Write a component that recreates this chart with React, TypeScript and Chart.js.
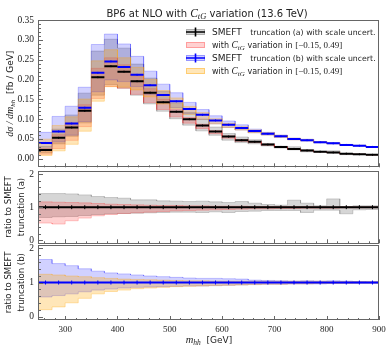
import React, { useEffect, useRef } from "react";
import { Chart, registerables } from "chart.js";
Chart.register(...registerables);

// ---------------- data ----------------
const BIN_EDGES = [250, 275, 300, 325, 350, 375, 400, 425, 450, 475, 500, 525, 550, 575, 600, 625, 650, 675, 700, 725, 750, 775, 800, 825, 850, 875, 900];

// central values dsigma/dm_hh [fb/GeV]
const XSEC_A = [0.022, 0.053, 0.079, 0.121, 0.206, 0.234, 0.220, 0.196, 0.167, 0.143, 0.119, 0.100, 0.084, 0.069, 0.056, 0.047, 0.043, 0.036, 0.030, 0.025, 0.021, 0.018, 0.016, 0.013, 0.0115, 0.010];
const XSEC_B = [0.040, 0.069, 0.089, 0.129, 0.217, 0.246, 0.232, 0.212, 0.186, 0.161, 0.145, 0.126, 0.111, 0.097, 0.086, 0.078, 0.070, 0.063, 0.057, 0.050, 0.047, 0.042, 0.039, 0.035, 0.033, 0.030];

// ratio bands relative to the central values
const SCALE_A_HI = [1.41, 1.41, 1.40, 1.37, 1.32, 1.29, 1.27, 1.22, 1.22, 1.19, 1.18, 1.17, 1.18, 1.16, 1.14, 1.17, 1.12, 1.08, 1.06, 1.21, 1.12, 1.04, 1.25, 1.02, 1.04, 1.04];
const SCALE_A_LO = [0.69, 0.71, 0.72, 0.75, 0.78, 0.80, 0.81, 0.82, 0.83, 0.84, 0.85, 0.85, 0.84, 0.86, 0.84, 0.87, 0.88, 0.90, 0.90, 0.90, 0.84, 0.91, 0.91, 0.80, 0.92, 0.93];
const CTG_A_HI = [1.16, 1.15, 1.14, 1.13, 1.11, 1.09, 1.08, 1.07, 1.06, 1.05, 1.05, 1.04, 1.04, 1.03, 1.03, 1.03, 1.02, 1.02, 1.02, 1.02, 1.02, 1.01, 1.01, 1.01, 1.01, 1.01];
const CTG_A_LO = [0.52, 0.49, 0.59, 0.67, 0.74, 0.78, 0.81, 0.83, 0.85, 0.87, 0.89, 0.90, 0.91, 0.92, 0.93, 0.94, 0.95, 0.95, 0.96, 0.96, 0.97, 0.97, 0.97, 0.98, 0.98, 0.98];
const SCALE_B_HI = [1.67, 1.55, 1.49, 1.40, 1.33, 1.28, 1.25, 1.22, 1.19, 1.17, 1.15, 1.13, 1.12, 1.12, 1.11, 1.10, 1.07, 1.06, 1.05, 1.04, 1.05, 1.04, 1.05, 1.04, 1.03, 1.02];
const SCALE_B_LO = [0.58, 0.62, 0.67, 0.73, 0.78, 0.81, 0.84, 0.86, 0.87, 0.88, 0.89, 0.90, 0.90, 0.91, 0.92, 0.93, 0.94, 0.95, 0.95, 0.96, 0.96, 0.96, 0.97, 0.97, 0.97, 0.97];
const CTG_B_HI = [1.24, 1.22, 1.19, 1.17, 1.14, 1.12, 1.10, 1.09, 1.08, 1.07, 1.06, 1.05, 1.05, 1.04, 1.04, 1.04, 1.04, 1.04, 1.04, 1.04, 1.04, 1.04, 1.03, 1.03, 1.03, 1.03];
const CTG_B_LO = [0.21, 0.29, 0.41, 0.54, 0.67, 0.74, 0.78, 0.82, 0.84, 0.86, 0.88, 0.89, 0.90, 0.91, 0.92, 0.93, 0.94, 0.95, 0.95, 0.96, 0.96, 0.97, 0.97, 0.97, 0.98, 0.98];

const X_TICKS = [300, 400, 500, 600, 700, 800, 900];
const Y_TICKS_MAIN = [0, 0.05, 0.1, 0.15, 0.2, 0.25, 0.3, 0.35];
const Y_TICKS_RATIO = [0, 1, 2];

const LEGEND_LABELS = [
  { head: "SMEFT", tail: "truncation (a) with scale uncert." },
  { head: "with", tail: "variation in" },
  { head: "SMEFT", tail: "truncation (b) with scale uncert." },
  { head: "with", tail: "variation in" },
];

// ---------------- styles ----------------
const SANS = "'DejaVu Sans', sans-serif";
const SERIF = "'Liberation Serif', serif";
const FRAME = "#666";
const TXT = "#222";
const GRAY_FILL = "rgba(128,128,128,0.32)";
const GRAY_EDGE = "rgba(128,128,128,0.45)";
const RED_FILL = "rgba(255,0,0,0.18)";
const RED_EDGE = "rgba(255,0,0,0.25)";
const BLUE_FILL = "rgba(0,0,255,0.18)";
const BLUE_EDGE = "rgba(0,0,255,0.28)";
const ORANGE_FILL = "rgba(255,165,0,0.28)";
const ORANGE_EDGE = "rgba(255,165,0,0.38)";

const CENTERS = BIN_EDGES.slice(0, -1).map((e, i) => (e + BIN_EDGES[i + 1]) / 2);

const stepPts = (vals: number[]) =>
  vals.flatMap((v, i) => [{ x: BIN_EDGES[i], y: v }, { x: BIN_EDGES[i + 1], y: v }]);
const scaled = (r: number[], base: number[]) => r.map((v, i) => v * base[i]);
const segs = (vals: number[]) => {
  const pts: any[] = [];
  vals.forEach((v, i) => {
    pts.push({ x: BIN_EDGES[i], y: v }, { x: BIN_EDGES[i + 1], y: v }, { x: BIN_EDGES[i + 1], y: null });
  });
  return pts;
};
const marks = (vals: number[]) => CENTERS.map((x, i) => ({ x, y: vals[i] }));

const bandDs = (lo: number[], hi: number[], base: number[], fill: string, edge: string, order: number) => [
  {
    type: "line",
    data: stepPts(scaled(hi, base)),
    borderColor: edge,
    borderWidth: 0.8,
    backgroundColor: fill,
    fill: "+1",
    pointRadius: 0,
    tension: 0,
    order,
  },
  {
    type: "line",
    data: stepPts(scaled(lo, base)),
    borderColor: edge,
    borderWidth: 0.8,
    backgroundColor: fill,
    fill: false,
    pointRadius: 0,
    tension: 0,
    order,
  },
];
const lineDs = (data: any[], color: string) => ({
  type: "line",
  data,
  borderColor: color,
  borderWidth: 2,
  pointRadius: 0,
  spanGaps: false,
  tension: 0,
  fill: false,
  order: 0,
});
const markDs = (data: any[], color: string, r: number) => ({
  type: "line",
  data,
  showLine: false,
  fill: false,
  pointStyle: "line",
  pointRotation: 90,
  pointRadius: r,
  pointBorderWidth: 1,
  pointBorderColor: color,
  pointBackgroundColor: color,
  order: 0,
});

type Seg = { t: string; f: string; dy?: number };
const sans = (s: number) => `${s}px ${SANS}`;
const it = (s: number) => `italic ${s}px ${SERIF}`;
const rm = (s: number) => `${s}px ${SERIF}`;

function drawRich(ctx: CanvasRenderingContext2D, parts: Seg[], x: number, y: number, align: "left" | "center") {
  let w = 0;
  parts.forEach((s) => {
    ctx.font = s.f;
    w += ctx.measureText(s.t).width;
  });
  let cx = align === "center" ? x - w / 2 : x;
  ctx.textAlign = "left";
  ctx.textBaseline = "alphabetic";
  parts.forEach((s) => {
    ctx.font = s.f;
    ctx.fillText(s.t, cx, y + (s.dy || 0));
    cx += ctx.measureText(s.t).width;
  });
  return cx;
}

const ctgSegs = (head: string, tail: string): Seg[] => [
  { t: head + " ", f: sans(8) },
  { t: "C", f: it(9.5) },
  { t: "tG", f: it(7), dy: 1.6 },
  { t: " " + tail + " ", f: sans(8) },
  { t: "[\u22120.15, 0.49]", f: rm(9) },
];

function decor(panel: "main" | "a" | "b") {
  return {
    id: "decor_" + panel,
    afterDraw(chart: any) {
      const ctx: CanvasRenderingContext2D = chart.ctx;
      const a = chart.chartArea;
      const xs = chart.scales.x;
      const ys = chart.scales.y;
      ctx.save();
      ctx.strokeStyle = FRAME;
      ctx.lineWidth = 1;
      ctx.beginPath();
      for (let v = 260; v <= 900; v += 20) {
        const px = Math.round(xs.getPixelForValue(v)) + 0.5;
        const len = v % 100 === 0 ? 4 : 2;
        ctx.moveTo(px, a.bottom);
        ctx.lineTo(px, a.bottom - len);
      }
      if (panel === "main") {
        for (let i = 0; i <= 35; i++) {
          const py = Math.round(ys.getPixelForValue(i / 100)) + 0.5;
          const len = i % 5 === 0 ? 4 : 2;
          ctx.moveTo(a.left, py);
          ctx.lineTo(a.left + len, py);
        }
      } else {
        for (let i = 0; i <= 10; i++) {
          const py = Math.round(ys.getPixelForValue(i / 5)) + 0.5;
          const len = i % 5 === 0 ? 4 : 2;
          ctx.moveTo(a.left, py);
          ctx.lineTo(a.left + len, py);
        }
      }
      ctx.stroke();
      ctx.strokeRect(Math.round(a.left) - 0.5, Math.round(a.top) + 0.5, Math.round(a.right - a.left), Math.round(a.bottom - a.top) - 1);

      ctx.fillStyle = TXT;
      if (panel === "main") {
        const mid = (a.left + a.right) / 2 - 2;
        drawRich(ctx, [
          { t: "BP6 at NLO with ", f: sans(10) },
          { t: "C", f: it(11.5) },
          { t: "tG", f: it(8.5), dy: 2 },
          { t: " variation (13.6 TeV)", f: sans(10) },
        ], mid, 16.5, "center");

        ctx.save();
        ctx.translate(13, (a.top + a.bottom) / 2);
        ctx.rotate(-Math.PI / 2);
        drawRich(ctx, [
          { t: "d\u03c3 / d", f: it(10) },
          { t: "m", f: it(10) },
          { t: "hh", f: it(7), dy: 1.8 },
          { t: "  [fb / GeV]", f: sans(9) },
        ], 0, 0, "center");
        ctx.restore();

        const fills = [GRAY_FILL, RED_FILL, BLUE_FILL, ORANGE_FILL];
        const edges = [GRAY_EDGE, RED_EDGE, BLUE_EDGE, ORANGE_EDGE];
        const crosses = ["#000", null, "#0000ff", null];
        LEGEND_LABELS.forEach((lab, i) => {
          const cy = a.top + 12 + 13 * i;
          const px = a.right - 193;
          ctx.fillStyle = fills[i];
          ctx.fillRect(px, cy - 3, 19, 6);
          ctx.strokeStyle = edges[i];
          ctx.lineWidth = 1;
          ctx.strokeRect(px + 0.5, cy - 2.5, 18, 5);
          const cc = crosses[i];
          if (cc) {
            ctx.strokeStyle = cc;
            ctx.lineWidth = 1.6;
            ctx.beginPath();
            ctx.moveTo(px, cy);
            ctx.lineTo(px + 19, cy);
            ctx.moveTo(px + 9.5, cy - 4.5);
            ctx.lineTo(px + 9.5, cy + 4.5);
            ctx.stroke();
          }
          ctx.fillStyle = TXT;
          const tx = a.right - 167;
          if (lab.head === "SMEFT") {
            const e = drawRich(ctx, [{ t: lab.head, f: sans(9) }], tx, cy + 3.3, "left");
            drawRich(ctx, [{ t: lab.tail, f: sans(7.8) }], e + 8.5, cy + 3.3, "left");
          } else {
            drawRich(ctx, ctgSegs(lab.head, lab.tail), tx, cy + 3.3, "left");
          }
        });
      }
      if (panel === "b") {
        const mid = (a.left + a.right) / 2;
        drawRich(ctx, [
          { t: "m", f: it(10.5) },
          { t: "hh", f: it(7.5), dy: 2 },
          { t: "  [GeV]", f: sans(9) },
        ], mid, 109, "center");
      }
      ctx.restore();
    },
  };
}

function makeConfig(panel: "main" | "a" | "b"): any {
  let datasets: any[] = [];
  const ratioA = XSEC_A.map((v, i) => v / XSEC_A[i]);
  const ratioB = XSEC_B.map((v, i) => v / XSEC_B[i]);
  if (panel === "main") {
    datasets = [
      lineDs(segs(XSEC_A), "#000"),
      lineDs(segs(XSEC_B), "#0000ff"),
      markDs(marks(XSEC_A), "#000", 1),
      markDs(marks(XSEC_B), "#0000ff", 1),
      ...bandDs(CTG_B_LO, CTG_B_HI, XSEC_B, ORANGE_FILL, ORANGE_EDGE, 1),
      ...bandDs(SCALE_B_LO, SCALE_B_HI, XSEC_B, BLUE_FILL, BLUE_EDGE, 2),
      ...bandDs(CTG_A_LO, CTG_A_HI, XSEC_A, RED_FILL, RED_EDGE, 3),
      ...bandDs(SCALE_A_LO, SCALE_A_HI, XSEC_A, GRAY_FILL, GRAY_EDGE, 4),
    ];
  } else if (panel === "a") {
    datasets = [
      lineDs(segs(ratioA), "#000"),
      markDs(marks(ratioA), "#000", 2),
      ...bandDs(CTG_A_LO, CTG_A_HI, ratioA, RED_FILL, RED_EDGE, 3),
      ...bandDs(SCALE_A_LO, SCALE_A_HI, ratioA, GRAY_FILL, GRAY_EDGE, 4),
    ];
  } else {
    datasets = [
      lineDs(segs(ratioB), "#0000ff"),
      markDs(marks(ratioB), "#0000ff", 2),
      ...bandDs(CTG_B_LO, CTG_B_HI, ratioB, ORANGE_FILL, ORANGE_EDGE, 1),
      ...bandDs(SCALE_B_LO, SCALE_B_HI, ratioB, BLUE_FILL, BLUE_EDGE, 2),
    ];
  }
  const padding =
    panel === "main" ? { top: 20, bottom: 8, left: 0, right: 12 } :
    panel === "a" ? { top: 10, bottom: 10, left: 0, right: 12 } :
    { top: 10, bottom: 0, left: 0, right: 12 };
  const yTitle = panel === "main"
    ? { display: false }
    : {
        display: true,
        text: ["ratio to SMEFT", panel === "a" ? "truncation (a)" : "truncation (b)"],
        font: { family: SANS, size: 8.5, lineHeight: 1.45 },
        color: TXT,
        padding: { top: 3, bottom: 0 },
      };
  return {
    type: "line",
    data: { datasets },
    options: {
      responsive: false,
      animation: false,
      devicePixelRatio: 1,
      layout: { padding },
      plugins: { legend: { display: false }, tooltip: { enabled: false }, title: { display: false } },
      events: [],
      scales: {
        x: {
          type: "linear",
          min: 250,
          max: 900,
          offset: false,
          display: panel === "b",
          grid: { display: false, drawTicks: false },
          border: { display: false },
          afterBuildTicks: (s: any) => { s.ticks = X_TICKS.map((v) => ({ value: v })); },
          afterFit: (s: any) => { s.height = panel === "b" ? 31 : 0; },
          ticks: {
            autoSkip: false,
            maxRotation: 0,
            padding: 4,
            color: TXT,
            font: { family: SERIF, size: 9 },
            callback: (v: any) => String(v),
          },
        },
        y: {
          type: "linear",
          min: panel === "main" ? -0.0215 : -0.09,
          max: panel === "main" ? 0.3505 : 2.1,
          grid: { display: false, drawTicks: false },
          border: { display: false },
          title: yTitle,
          afterBuildTicks: (s: any) => {
            s.ticks = (panel === "main" ? Y_TICKS_MAIN : Y_TICKS_RATIO).map((v) => ({ value: v }));
          },
          afterFit: (s: any) => { s.width = 39; },
          ticks: {
            autoSkip: false,
            padding: 5,
            color: TXT,
            font: { family: SERIF, size: 9.5 },
            callback: (v: any) => (panel === "main" ? Number(v).toFixed(2) : String(v)),
          },
        },
      },
    },
    plugins: [decor(panel)],
  };
}

export default function App() {
  const r1 = useRef<HTMLCanvasElement>(null);
  const r2 = useRef<HTMLCanvasElement>(null);
  const r3 = useRef<HTMLCanvasElement>(null);
  useEffect(() => {
    const charts = [
      new Chart(r1.current as HTMLCanvasElement, makeConfig("main")),
      new Chart(r2.current as HTMLCanvasElement, makeConfig("a")),
      new Chart(r3.current as HTMLCanvasElement, makeConfig("b")),
    ];
    return () => charts.forEach((c) => c.destroy());
  }, []);
  return (
    <div style={{ position: "absolute", left: 0, top: 0, width: 391, height: 351, background: "#fff", overflow: "hidden" }}>
      <canvas ref={r1} width={391} height={178} style={{ position: "absolute", left: 0, top: 0 }} />
      <canvas ref={r2} width={391} height={94} style={{ position: "absolute", left: 0, top: 160 }} />
      <canvas ref={r3} width={391} height={117} style={{ position: "absolute", left: 0, top: 234 }} />
    </div>
  );
}
